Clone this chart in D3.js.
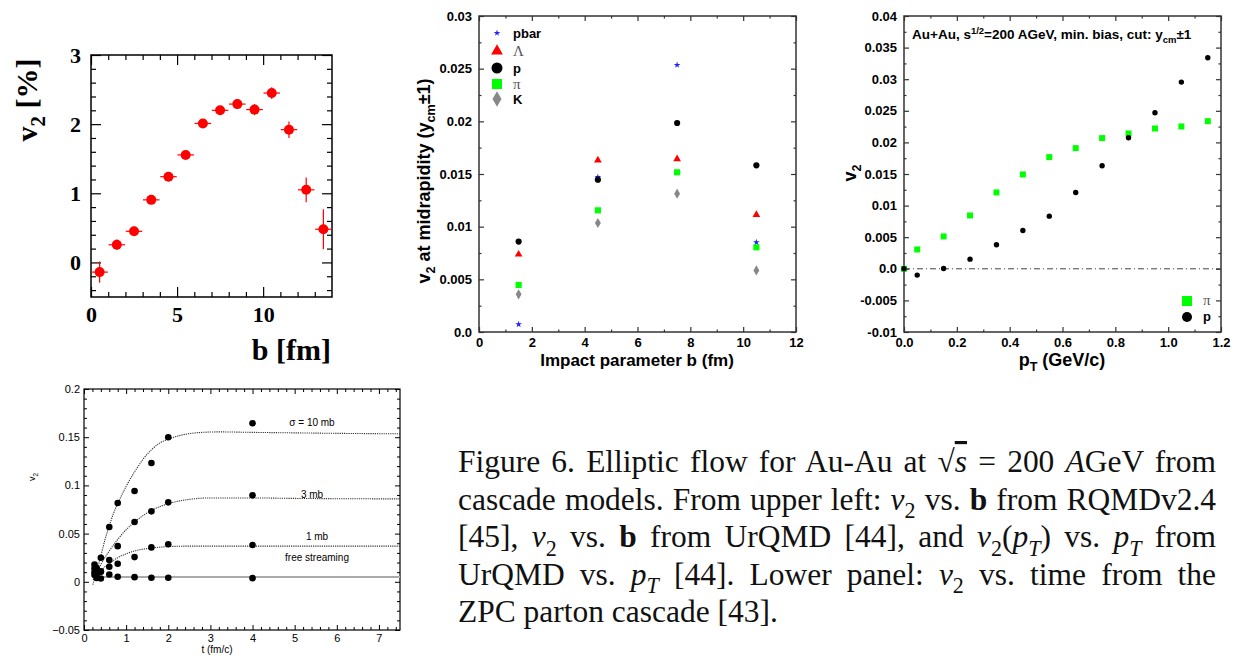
<!DOCTYPE html>
<html>
<head>
<meta charset="utf-8">
<script src="https://cdn.jsdelivr.net/npm/d3@7"></script>
<style>
  body { margin: 0; background: #fff; }
  svg { display: block; }
</style>
</head>
<body>
<svg id="fig" width="1239" height="656"></svg>
<script>
// ---------- data ----------
// panel 1: RQMD v2 [%] vs b [fm]
const rqmdB = [0.5, 1.5, 2.5, 3.5, 4.5, 5.5, 6.5, 7.5, 8.5, 9.5, 10.5, 11.5, 12.5, 13.5];
const rqmdV2 = [-0.14, 0.255, 0.45, 0.905, 1.24, 1.555, 2.01, 2.2, 2.29, 2.21, 2.45, 1.92, 1.05, 0.48];
const rqmdErr = [0.155, 0.075, 0.065, 0.06, 0.06, 0.06, 0.06, 0.06, 0.07, 0.08, 0.085, 0.12, 0.18, 0.29];
const rqmdBinHalf = [0.48];
const p1XTicks = [0, 5, 10];
const p1YTicks = [0, 1, 2, 3];

// panel 2: UrQMD v2 at midrapidity vs b
const urqmdB = [1.5, 4.5, 7.5, 10.5];
const v2Pbar = [0.00073, 0.0147, 0.02535, 0.00851];
const v2Lambda = [0.00737, 0.0163, 0.01642, 0.01114];
const v2Proton = [0.00858, 0.01446, 0.01984, 0.01582];
const v2Pion = [0.00446, 0.01155, 0.01516, 0.00804];
const v2Kaon = [0.00358, 0.01035, 0.01313, 0.00585];
const p2Legend = ["pbar", "Λ", "p", "π", "K"];
const p2XTicks = [0, 2, 4, 6, 8, 10, 12];
const p2YTicks = [0, 0.005, 0.01, 0.015, 0.02, 0.025, 0.03];
const p2YLabels = ["0.0", "0.005", "0.01", "0.015", "0.02", "0.025", "0.03"];

// panel 3: UrQMD v2 vs pT
const ptPion = [0.0, 0.05, 0.15, 0.25, 0.35, 0.45, 0.55, 0.65, 0.75, 0.85, 0.95, 1.05, 1.15];
const v2PtPion = [0.0, 0.00306, 0.00512, 0.00844, 0.01208, 0.01493, 0.01767, 0.01909, 0.02068, 0.02141, 0.0222, 0.02252, 0.02336];
const ptProton = [0.0, 0.05, 0.15, 0.25, 0.35, 0.45, 0.55, 0.65, 0.75, 0.85, 0.95, 1.05, 1.15];
const v2PtProton = [0.0, -0.001, 0.00005, 0.00153, 0.0038, 0.00607, 0.00833, 0.01208, 0.0163, 0.02073, 0.02468, 0.02954, 0.03339];
const p3XTicks = [0, 0.2, 0.4, 0.6, 0.8, 1.0, 1.2];
const p3XLabels = ["0.0", "0.2", "0.4", "0.6", "0.8", "1.0", "1.2"];
const p3YTicks = [-0.01, -0.005, 0, 0.005, 0.01, 0.015, 0.02, 0.025, 0.03, 0.035, 0.04];
const p3YLabels = ["-0.01", "-0.005", "0.0", "0.005", "0.01", "0.015", "0.02", "0.025", "0.03", "0.035", "0.04"];

// panel 4: ZPC v2 vs time
const zpcT = [0.25, 0.3, 0.4, 0.6, 0.8, 1.2, 1.6, 2.0, 4.0];
const zpc10mb = [0.018, 0.014, 0.025, 0.0568, 0.0817, 0.0942, 0.1233, 0.150, 0.1645];
const zpc3mb = [0.014, 0.010, 0.011, 0.0225, 0.037, 0.062, 0.0731, 0.0824, 0.0897];
const zpc1mb = [0.010, 0.007, 0.0104, 0.0156, 0.0187, 0.0256, 0.0357, 0.039, 0.0381];
const zpcFree = [0.007, 0.004, 0.0035, 0.0076, 0.0052, 0.0048, 0.0042, 0.0042, 0.0038];
const fit10T = [0.21, 0.3, 0.4, 0.5, 0.6, 0.7, 0.8, 1.0, 1.2, 1.4, 1.6, 1.8, 2.0, 2.4, 2.8, 3.2, 4.0, 5.0, 6.0, 7.5];
const fit10V = [-0.003, 0.010, 0.027, 0.044, 0.058, 0.071, 0.081, 0.099, 0.114, 0.127, 0.137, 0.144, 0.148, 0.153, 0.155, 0.1555, 0.155, 0.1545, 0.154, 0.1535];
const fit3T = [0.22, 0.4, 0.6, 0.8, 1.0, 1.2, 1.6, 2.0, 2.5, 3.0, 4.0, 5.0, 7.5];
const fit3V = [0.002, 0.018, 0.032, 0.044, 0.054, 0.062, 0.074, 0.081, 0.0855, 0.087, 0.087, 0.0865, 0.086];
const fit1T = [0.22, 0.4, 0.6, 0.8, 1.0, 1.2, 1.6, 2.0, 2.5, 7.5];
const fit1V = [0.004, 0.012, 0.019, 0.025, 0.029, 0.032, 0.035, 0.0365, 0.037, 0.037];
const fitFreeT = [0.25, 7.5];
const fitFreeV = [0.005, 0.005];
const p4Labels = ["σ = 10 mb", "3 mb", "1 mb", "free streaming"];
const p4LabelV = [0.165, 0.091, 0.047, 0.0255];
const p4XTicks = [0, 1, 2, 3, 4, 5, 6, 7];
const p4YTicks = [-0.05, 0, 0.05, 0.1, 0.15, 0.2];
const p4YLabels = ["\u22120.05", "0", "0.05", "0.1", "0.15", "0.2"];

// ---------- helpers ----------
const svg = d3.select("#fig");
svg.append("rect").attr("width", 1239).attr("height", 656).attr("fill", "#fff");

function panel(box, xDom, yDom) {
  const g = svg.append("g").attr("transform", `translate(${box.x},${box.y})`);
  const x = d3.scaleLinear().domain(xDom).range([0, box.w]);
  const y = d3.scaleLinear().domain(yDom).range([box.h, 0]);
  return { g, x, y, w: box.w, h: box.h };
}

function minorBetween(major, n) {
  const out = [];
  for (let i = 0; i < major.length - 1; i++) {
    const a = major[i], step = (major[i + 1] - a) / n;
    for (let k = 1; k < n; k++) out.push(a + k * step);
  }
  return out;
}

// ticks on all four sides, pointing inward
function frame(p, o) {
  const { g, x, y, w, h } = p;
  const mk = {
    bottom: () => d3.axisBottom(x), top: () => d3.axisTop(x),
    left: () => d3.axisLeft(y), right: () => d3.axisRight(y)
  };
  const shift = { bottom: `translate(0,${h})`, top: null, left: null, right: `translate(${w},0)` };
  ["bottom", "top", "left", "right"].forEach(side => {
    const isX = side === "bottom" || side === "top";
    const maj = isX ? o.xMajor : o.yMajor, min = isX ? o.xMinor : o.yMinor;
    const labels = isX ? o.xLabels : o.yLabels;
    const showLab = side === "bottom" || side === "left";
    const a = mk[side]().tickValues(maj).tickSize(-o.major).tickPadding(isX ? o.xPad : o.yPad)
      .tickFormat(showLab ? (d, i) => labels[i] : "");
    const ga = g.append("g").attr("transform", shift[side]).call(a);
    ga.select(".domain").remove();
    ga.selectAll("line").attr("stroke", o.color).attr("stroke-width", o.tickW);
    ga.selectAll("text").attr("font-family", o.font).attr("font-size", o.size)
      .attr("font-weight", o.weight).attr("fill", "#000");
    const b = mk[side]().tickValues(min).tickSize(-o.minor).tickFormat("");
    const gb = g.append("g").attr("transform", shift[side]).call(b);
    gb.select(".domain").remove();
    gb.selectAll("line").attr("stroke", o.color).attr("stroke-width", o.tickW);
  });
  g.append("rect").attr("width", w).attr("height", h).attr("fill", "none")
    .attr("stroke", o.color).attr("stroke-width", o.frameW);
}

// text made of segments: [str, style]  style tokens: i, b, sub, sup, ov
function richText(sel, segs, size) {
  let shift = 0;
  segs.forEach(([s, st]) => {
    const tok = st ? st.split(" ") : [];
    const t = sel.append("tspan").text(s);
    let want = 0;
    if (tok.includes("sub")) { want = size * 0.28; t.attr("font-size", size * 0.7); }
    if (tok.includes("sup")) { want = -size * 0.4; t.attr("font-size", size * 0.7); }
    if (want !== shift) { t.attr("dy", want - shift); shift = want; }
    if (tok.includes("i")) t.attr("font-style", "italic");
    if (tok.includes("b")) t.attr("font-weight", "bold");
    if (tok.includes("ov")) t.attr("text-decoration", "overline");
  });
  return sel;
}

// ---------- panel 1 ----------
{
  const p = panel({ x: 91, y: 55, w: 241, h: 242 }, [0, 14], [-0.5, 3]);
  frame(p, {
    xMajor: p1XTicks, xMinor: d3.range(1, 14).filter(d => d % 5 !== 0), xLabels: p1XTicks.map(String),
    yMajor: p1YTicks, yMinor: d3.range(-0.4, 3, 0.2).filter(d => Math.abs(d - Math.round(d)) > 0.01),
    yLabels: p1YTicks.map(String),
    major: 10, minor: 5, xPad: 9, yPad: 10, color: "#000", tickW: 1.2, frameW: 1.5,
    font: "Liberation Serif", size: 22, weight: "bold"
  });
  const { g, x, y } = p;
  const pts = rqmdB.map((b, i) => ({ b, v: rqmdV2[i], e: rqmdErr[i] }));
  const half = rqmdBinHalf[0];
  g.selectAll(".ex").data(pts).join("line")
    .attr("x1", d => x(d.b - half)).attr("x2", d => x(d.b + half))
    .attr("y1", d => y(d.v)).attr("y2", d => y(d.v))
    .attr("stroke", "#f00").attr("stroke-width", 1.2);
  g.selectAll(".ey").data(pts).join("line")
    .attr("x1", d => x(d.b)).attr("x2", d => x(d.b))
    .attr("y1", d => y(d.v - d.e)).attr("y2", d => y(d.v + d.e))
    .attr("stroke", "#f00").attr("stroke-width", 1.2);
  g.selectAll(".pt").data(pts).join("circle")
    .attr("cx", d => x(d.b)).attr("cy", d => y(d.v)).attr("r", 5).attr("fill", "#f00");

  const yt = svg.append("text").attr("transform", "translate(37,100) rotate(-90)")
    .attr("text-anchor", "middle").attr("font-family", "Liberation Serif")
    .attr("font-weight", "bold").attr("font-size", 30);
  richText(yt, [["v"], ["2", "sub"], [" [%]"]], 30);
  svg.append("text").attr("x", 331).attr("y", 360).attr("text-anchor", "end")
    .attr("font-family", "Liberation Serif").attr("font-weight", "bold").attr("font-size", 30)
    .text("b [fm]");
}

// ---------- panel 2 ----------
{
  const p = panel({ x: 479, y: 16, w: 317, h: 316 }, [0, 12], [0, 0.03]);
  frame(p, {
    xMajor: p2XTicks, xMinor: minorBetween(p2XTicks, 2), xLabels: p2XTicks.map(String),
    yMajor: p2YTicks, yMinor: minorBetween(p2YTicks, 2), yLabels: p2YLabels,
    major: 5, minor: 2.5, xPad: 6, yPad: 7, color: "#333", tickW: 1.2, frameW: 1.5,
    font: "Liberation Sans", size: 13, weight: "bold"
  });
  const { g, x, y } = p;
  const series = [
    { v: v2Pbar, type: d3.symbolStar, size: 14, fill: "#22f", lsize: 14 },
    { v: v2Kaon, type: d3.symbolDiamond, size: 30, fill: "#888", lsize: 70 },
    { v: v2Pion, type: d3.symbolSquare, size: 38, fill: "#0f0", lsize: 100 },
    { v: v2Lambda, type: d3.symbolTriangle, size: 26, fill: "#f00", lsize: 60 },
    { v: v2Proton, type: d3.symbolCircle, size: 30, fill: "#000", lsize: 95 }
  ];
  series.forEach(s => {
    g.selectAll(null).data(urqmdB).join("path")
      .attr("transform", (b, i) => `translate(${x(b)},${y(s.v[i])})`)
      .attr("d", d3.symbol(s.type, s.size)).attr("fill", s.fill);
  });
  const legOrder = [series[0], series[3], series[4], series[2], series[1]];
  const legY = [33, 51, 68, 84, 99];
  legOrder.forEach((s, i) => {
    svg.append("path").attr("transform", `translate(497,${legY[i]})`)
      .attr("d", d3.symbol(s.type, s.lsize)).attr("fill", s.fill);
    const greek = p2Legend[i] === "Λ" || p2Legend[i] === "π";
    svg.append("text").attr("x", 513).attr("y", legY[i] + 5)
      .attr("font-family", greek ? "Liberation Serif" : "Liberation Sans")
      .attr("font-weight", greek ? "normal" : "bold").attr("font-size", greek ? 15 : 13)
      .attr("fill", greek ? "#555" : "#000").text(p2Legend[i]);
  });

  const yt = svg.append("text").attr("transform", "translate(430,181) rotate(-90)")
    .attr("text-anchor", "middle").attr("font-family", "Liberation Sans")
    .attr("font-weight", "bold").attr("font-size", 18);
  richText(yt, [["v"], ["2", "sub"], [" at midrapidity (y"], ["cm", "sub"], ["±1)"]], 18);
  svg.append("text").attr("x", 637).attr("y", 366).attr("text-anchor", "middle")
    .attr("font-family", "Liberation Sans").attr("font-weight", "bold").attr("font-size", 17)
    .text("Impact parameter b (fm)");
}

// ---------- panel 3 ----------
{
  const p = panel({ x: 904, y: 16, w: 317, h: 316 }, [0, 1.2], [-0.01, 0.04]);
  frame(p, {
    xMajor: p3XTicks, xMinor: minorBetween(p3XTicks, 2), xLabels: p3XLabels,
    yMajor: p3YTicks, yMinor: minorBetween(p3YTicks, 2), yLabels: p3YLabels,
    major: 5, minor: 2.5, xPad: 6, yPad: 7, color: "#333", tickW: 1.2, frameW: 1.5,
    font: "Liberation Sans", size: 13, weight: "bold"
  });
  const { g, x, y } = p;
  g.append("line").attr("x1", x(0)).attr("x2", x(1.2)).attr("y1", y(0)).attr("y2", y(0))
    .attr("stroke", "#444").attr("stroke-width", 1).attr("stroke-dasharray", "6,3,1,3");
  g.selectAll(".pi").data(ptPion).join("rect")
    .attr("x", (d, i) => x(d) - 3).attr("y", (d, i) => y(v2PtPion[i]) - 3)
    .attr("width", 6).attr("height", 6).attr("fill", "#0f0");
  g.selectAll(".pr").data(ptProton).join("circle")
    .attr("cx", d => x(d)).attr("cy", (d, i) => y(v2PtProton[i])).attr("r", 2.7).attr("fill", "#000");

  svg.append("rect").attr("x", 1182).attr("y", 296).attr("width", 10).attr("height", 10).attr("fill", "#0f0");
  svg.append("circle").attr("cx", 1187).attr("cy", 317).attr("r", 5).attr("fill", "#000");
  svg.append("text").attr("x", 1203).attr("y", 305).attr("font-family", "Liberation Serif")
    .attr("font-size", 15).attr("fill", "#555").text("π");
  svg.append("text").attr("x", 1203).attr("y", 321).attr("font-family", "Liberation Sans")
    .attr("font-weight", "bold").attr("font-size", 13).text("p");

  const note = svg.append("text").attr("x", 912).attr("y", 39).attr("font-family", "Liberation Sans")
    .attr("font-weight", "bold").attr("font-size", 13.5);
  richText(note, [["Au+Au, s"], ["1/2", "sup"], ["=200 AGeV, min. bias, cut: y"], ["cm", "sub"], ["±1"]], 13.5);

  const yt = svg.append("text").attr("transform", "translate(856,173) rotate(-90)")
    .attr("text-anchor", "middle").attr("font-family", "Liberation Sans")
    .attr("font-weight", "bold").attr("font-size", 18);
  richText(yt, [["v"], ["2", "sub"]], 18);
  const xt = svg.append("text").attr("x", 1062).attr("y", 366).attr("text-anchor", "middle")
    .attr("font-family", "Liberation Sans").attr("font-weight", "bold").attr("font-size", 18);
  richText(xt, [["p"], ["T", "sub"], [" (GeV/c)"]], 18);
}

// ---------- panel 4 ----------
{
  const p = panel({ x: 84, y: 389, w: 316, h: 241 }, [0, 7.5], [-0.05, 0.2]);
  frame(p, {
    xMajor: p4XTicks, xMinor: d3.range(0.2, 7.5, 0.2).filter(d => Math.abs(d - Math.round(d)) > 0.01),
    xLabels: p4XTicks.map(String),
    yMajor: p4YTicks, yMinor: minorBetween(p4YTicks, 5), yLabels: p4YLabels,
    major: 5, minor: 3, xPad: 4, yPad: 4, color: "#000", tickW: 1, frameW: 1.2,
    font: "Liberation Sans", size: 11, weight: "normal"
  });
  const { g, x, y } = p;
  const line = d3.line().x(d => x(d[0])).y(d => y(d[1])).curve(d3.curveMonotoneX);
  g.append("path").attr("d", line(fitFreeT.map((t, i) => [t, fitFreeV[i]])))
    .attr("fill", "none").attr("stroke", "#aaa").attr("stroke-width", 2.2);
  [[fit10T, fit10V], [fit3T, fit3V], [fit1T, fit1V]].forEach(([ts, vs]) => {
    g.append("path").attr("d", line(ts.map((t, i) => [t, vs[i]])))
      .attr("fill", "none").attr("stroke", "#333").attr("stroke-width", 1.1)
      .attr("stroke-dasharray", "1.2,1");
  });
  [zpc10mb, zpc3mb, zpc1mb, zpcFree].forEach(vs => {
    g.selectAll(null).data(zpcT).join("circle")
      .attr("cx", d => x(d)).attr("cy", (d, i) => y(vs[i])).attr("r", 3.3).attr("fill", "#000");
  });
  const labX = [312 - 84, 312 - 84, 317 - 84, 317 - 84];
  p4Labels.forEach((s, i) => {
    g.append("text").attr("x", labX[i]).attr("y", y(p4LabelV[i])).attr("dy", "0.35em")
      .attr("text-anchor", "middle").attr("font-family", "Liberation Sans").attr("font-size", 10)
      .text(s);
  });
  const yt = svg.append("text").attr("transform", "translate(35,477) rotate(-90)")
    .attr("text-anchor", "middle").attr("font-family", "Liberation Sans").attr("font-size", 9);
  richText(yt, [["v"], ["2", "sub"]], 9);
  svg.append("text").attr("x", 217).attr("y", 653).attr("text-anchor", "middle")
    .attr("font-family", "Liberation Sans").attr("font-size", 10).text("t (fm/c)");
}

// ---------- caption ----------
{
  const captionLines = [
    [["Figure 6. Elliptic flow for Au-Au at "], ["√"], ["s", "i ov"], [" = 200 "], ["A", "i"], ["GeV from"]],
    [["cascade models. From upper left: "], ["v", "i"], ["2", "sub"], [" vs. "], ["b", "b"], [" from RQMDv2.4"]],
    [["[45], "], ["v", "i"], ["2", "sub"], [" vs. "], ["b", "b"], [" from UrQMD [44], and "], ["v", "i"], ["2", "sub"],
      ["("], ["p", "i"], ["T", "i sub"], [")"], [" vs. "], ["p", "i"], ["T", "i sub"], [" from"]],
    [["UrQMD vs. "], ["p", "i"], ["T", "i sub"], [" [44]. Lower panel: "], ["v", "i"], ["2", "sub"], [" vs. time from the"]],
    [["ZPC parton cascade [43]."]]
  ];
  const left = 458, right = 1216, base0 = 472, lead = 37.5;
  // choose a font size so the short last line has its width in the figure
  const probe = svg.append("text").attr("font-family", "Liberation Serif").attr("font-size", 30)
    .text("ZPC parton cascade [43].");
  const fs = 30 * 320 / probe.node().getComputedTextLength();
  probe.remove();
  captionLines.forEach((segs, li) => {
    const t = svg.append("text").attr("x", left).attr("y", base0 + li * lead)
      .attr("font-family", "Liberation Serif").attr("font-size", fs).attr("fill", "#111");
    richText(t, segs, fs);
    if (li < captionLines.length - 1) {
      const nat = t.node().getComputedTextLength();
      const spaces = segs.map(s => s[0].split(" ").length - 1).reduce((a, b) => a + b, 0);
      t.attr("word-spacing", (right - left - nat) / spaces);
    }
  });
}
</script>
</body>
</html>
